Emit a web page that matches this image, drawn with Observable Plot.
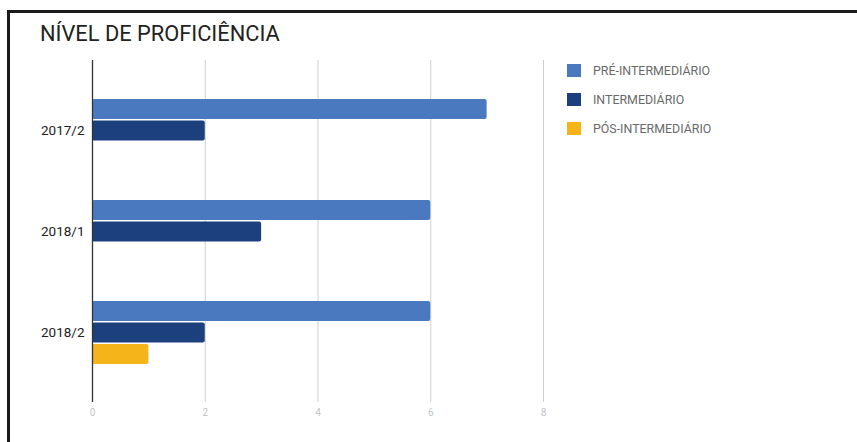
<!DOCTYPE html>
<html><head><meta charset="utf-8">
<script src="https://cdn.jsdelivr.net/npm/d3@7"></script>
<script src="https://cdn.jsdelivr.net/npm/@observablehq/plot@0.6"></script>
<style>
body{margin:0;background:#fff;font-family:Roboto,sans-serif;}
#wrap{position:relative;width:857px;height:442px;overflow:hidden;background:#fff;}
#frame{position:absolute;left:7px;top:10px;width:870px;height:460px;border-top:3px solid #1a1a1a;border-left:3px solid #1a1a1a;}
#title{position:absolute;left:40px;top:21px;font-size:21.8px;color:#222;white-space:nowrap;}
#chart{position:absolute;left:0;top:0;}
#legend{position:absolute;left:567px;top:56px;}
.item{display:flex;align-items:center;height:29px;font-size:12.4px;color:#6a6a6a;white-space:nowrap;}
.sw{width:14px;height:13px;margin-right:12px;}
</style></head>
<body>
<div id="wrap">
  <div id="chart"></div>
  <div id="frame"></div>
  <div id="title">NÍVEL DE PROFICIÊNCIA</div>
  <div id="legend"></div>
</div>
<script>
const periods = ["2017/2", "2018/1", "2018/2"];
const seriesNames = ["PRÉ-INTERMEDIÁRIO", "INTERMEDIÁRIO", "PÓS-INTERMEDIÁRIO"];
const preIntermediario = [7, 6, 6];
const intermediario = [2, 3, 2];
const posIntermediario = [0, 0, 1];
const xTicks = [0, 2, 4, 6, 8];
const seriesColors = ["#4a79c0", "#1c3f7e", "#f5b41a"];

const seriesValues = [preIntermediario, intermediario, posIntermediario];
const offsets = [-21.5, 0, 21.5];

const rows = seriesNames.flatMap((s, i) => periods.map((p, j) => ({series: s, period: p, value: seriesValues[i][j]})));

const barMarks = seriesNames.map((s, i) =>
  Plot.barX(rows.filter(d => d.series === s && d.value > 0), {
    x: "value", y: "period", fill: seriesColors[i],
    insetTop: 40.5, insetBottom: 40.5, dy: offsets[i], rx: 2
  })
);

const chart = Plot.plot({
  width: 857,
  height: 442,
  marginTop: 60,
  marginBottom: 40,
  marginLeft: 92,
  marginRight: 314,
  style: {fontFamily: "Roboto, sans-serif", background: "transparent"},
  x: {domain: [0, 8]},
  y: {domain: periods, paddingInner: 0, paddingOuter: 0.193},
  marks: [
    Plot.gridX(xTicks, {stroke: "#cfcfcf", strokeOpacity: 1}),
    ...barMarks,
    Plot.ruleX([0], {stroke: "#333", strokeWidth: 1.3}),
    Plot.axisX(xTicks, {tickSize: 0, tickPadding: 6, fill: "#c4c4c4", fontSize: 10, label: null}),
    Plot.axisY({tickSize: 0, tickPadding: 8, fill: "#222", fontSize: 13.5, label: null})
  ]
});
document.getElementById("chart").appendChild(chart);

const legend = document.getElementById("legend");
seriesNames.forEach((s, i) => {
  const item = document.createElement("div");
  item.className = "item";
  const sw = document.createElement("div");
  sw.className = "sw";
  sw.style.background = seriesColors[i];
  const t = document.createElement("span");
  t.textContent = s;
  item.appendChild(sw);
  item.appendChild(t);
  legend.appendChild(item);
});
</script>
</body></html>
